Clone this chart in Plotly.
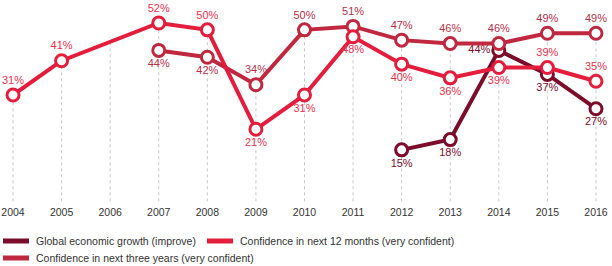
import plotly.graph_objects as go

years = list(range(2004, 2017))
growth = [None]*8 + [15, 18, 44, 37, 27]
conf12 = [31, 41, None, 52, 50, 21, 31, 48, 40, 36, 39, 39, 35]
conf3 = [None, None, None, 44, 42, 34, 50, 51, 47, 46, 46, 49, 49]

growth_pos = ["bottom center"]*8 + ["bottom center", "bottom center", "middle left", "bottom center", "bottom center"]
conf12_pos = ["top center", "top center", "top center", "top center", "top center",
              "bottom center", "bottom center", "bottom center", "bottom center",
              "bottom center", "bottom center", "top center", "top center"]
conf3_pos = ["top center"]*3 + ["bottom center", "bottom center"] + ["top center"]*8

names = ["Global economic growth (improve)", "Confidence in next 12 months (very confident)",
         "Confidence in next three years (very confident)"]
line_colors = ["#7b0c2a", "#e41d3d", "#c0283f"]
text_colors = ["#7b0c2a", "#e8334f", "#b8304a"]
FONT = "Liberation Sans, Arial, Helvetica"

W, H, B = 612, 266, 64
PH = H - B  # plot area height in px

fig = go.Figure()

def top_at(i):
    vals = [s[i] for s in (growth, conf12, conf3) if s[i] is not None]
    if vals:
        return max(vals)
    return (conf12[i-1] + conf12[i+1]) / 2

gx, gy = [], []
for i, yr in enumerate(years):
    gx += [yr, yr, None]
    gy += [0, top_at(i), None]
fig.add_trace(go.Scatter(x=gx, y=gy, mode="lines", showlegend=False, hoverinfo="skip",
                         line=dict(color="#c8c8c8", width=1, dash="dot")))

series = [(growth, growth_pos, 0), (conf3, conf3_pos, 2), (conf12, conf12_pos, 1)]
for data, pos, k in series:
    fig.add_trace(go.Scatter(
        x=years, y=data, mode="lines+markers+text",
        text=[f"{v}%" if v is not None else "" for v in data],
        textposition=pos,
        textfont=dict(family=FONT, size=11, color=text_colors[k]),
        line=dict(color=line_colors[k], width=4),
        marker=dict(size=12, color="white", line=dict(color=line_colors[k], width=3)),
        showlegend=False, connectgaps=(k == 1), cliponaxis=False))

# manual legend (pixel layout -> paper coords)
legend_items = [(0, 3, 241), (1, 207, 241), (2, 3, 258)]
shapes, annotations = [], []
for k, px, py in legend_items:
    yp = (PH - py) / PH
    shapes.append(dict(type="line", xref="paper", yref="paper",
                       x0=px / W, x1=(px + 26) / W, y0=yp, y1=yp,
                       line=dict(color=line_colors[k], width=5)))
    annotations.append(dict(xref="paper", yref="paper", x=(px + 31) / W, y=yp,
                            xanchor="left", yanchor="middle", showarrow=False,
                            text=names[k],
                            font=dict(family=FONT, size=10.5, color="#333333")))

fig.update_layout(
    width=W, height=H,
    margin=dict(l=0, r=0, t=0, b=B),
    paper_bgcolor="white", plot_bgcolor="white",
    xaxis=dict(range=[2003.732, 2016.33], tickmode="array", tickvals=years,
               ticktext=[str(y) for y in years], showgrid=False, zeroline=False,
               showline=False, ticks="", automargin=False, ticklabelstandoff=2,
               tickfont=dict(family=FONT, size=10.5, color="#333333")),
    yaxis=dict(range=[-0.2, 58.7], visible=False),
    shapes=shapes, annotations=annotations,
    showlegend=False,
)

fig.write_html("out.html")
